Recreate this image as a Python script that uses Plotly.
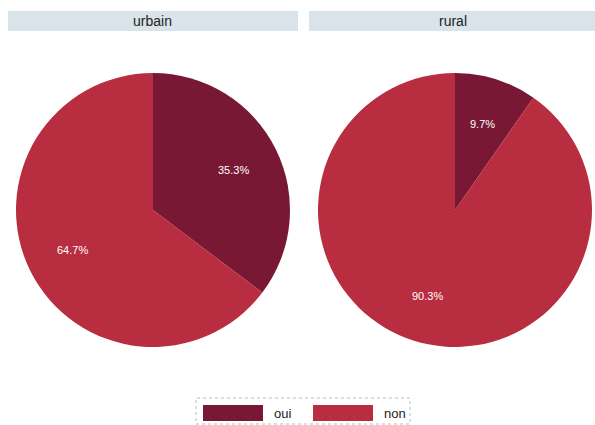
import math
import plotly.graph_objects as go

# Share of "oui" / "non" answers by area type
categories = ["oui", "non"]
panels = ["urbain", "rural"]
urbain_values = [35.3, 64.7]
rural_values = [9.7, 90.3]

colors = ["#781834", "#b82d3f"]
W, H = 595, 425
LABEL_RADIUS = 0.66  # slice labels placed at this fraction of the radius


def px(x):
    return x / W


def py(y):
    return 1 - y / H


fig = go.Figure()
shapes = []
annotations = []

# pie boxes in pixels: (left, right, top, bottom)
boxes = [(16, 290, 73, 347), (318, 592, 73, 347)]
for name, vals, (x0, x1, y0, y1) in zip(panels, [urbain_values, rural_values], boxes):
    fig.add_trace(go.Pie(
        labels=categories,
        values=vals,
        sort=False,
        direction="clockwise",
        rotation=0,
        marker=dict(colors=colors, line=dict(width=0)),
        textinfo="none",
        domain=dict(x=[px(x0), px(x1)], y=[py(y1), py(y0)]),
        hoverinfo="label+value",
        showlegend=False,
        name=name,
    ))
    # slice value labels, placed at each slice's mid-angle
    cx, cy = (x0 + x1) / 2, (y0 + y1) / 2
    R = (x1 - x0) / 2
    total = sum(vals)
    start = 0.0
    for v in vals:
        mid = (start + v / 2) / total * 2 * math.pi
        start += v
        lx = cx + LABEL_RADIUS * R * math.sin(mid)
        ly = cy - LABEL_RADIUS * R * math.cos(mid)
        annotations.append(dict(text=f"{v:.1f}%", xref="paper", yref="paper",
                                x=px(lx), y=py(ly), showarrow=False,
                                xanchor="center", yanchor="middle",
                                font=dict(size=11, color="white", family="Arial")))

# Panel header strips
for name, (x0, x1) in zip(panels, [(8, 298), (309, 596)]):
    shapes.append(dict(type="rect", xref="paper", yref="paper",
                       x0=px(x0), x1=px(x1), y0=py(31), y1=py(11),
                       fillcolor="#d9e4ea", line=dict(width=0), layer="below"))
    annotations.append(dict(text=name, xref="paper", yref="paper",
                            x=px((x0 + x1) / 2), y=py(21), showarrow=False,
                            xanchor="center", yanchor="middle",
                            font=dict(size=14, color="#222", family="Arial")))

# Legend box with wide swatches
shapes.append(dict(type="rect", xref="paper", yref="paper",
                   x0=px(196), x1=px(410), y0=py(424), y1=py(398),
                   fillcolor="white", line=dict(color="#bbbbbb", width=1, dash="dot")))
for cat, col, sx in zip(categories, colors, [203, 313]):
    shapes.append(dict(type="rect", xref="paper", yref="paper",
                       x0=px(sx), x1=px(sx + 60), y0=py(421), y1=py(405),
                       fillcolor=col, line=dict(width=0)))
    annotations.append(dict(text=cat, xref="paper", yref="paper",
                            x=px(sx + 69), y=py(413), showarrow=False,
                            xanchor="left", yanchor="middle",
                            font=dict(size=13, color="#222", family="Arial")))

fig.update_layout(
    width=W, height=H,
    margin=dict(l=0, r=0, t=0, b=0),
    paper_bgcolor="white",
    plot_bgcolor="white",
    shapes=shapes,
    annotations=annotations,
)

fig.write_html("out.html")
